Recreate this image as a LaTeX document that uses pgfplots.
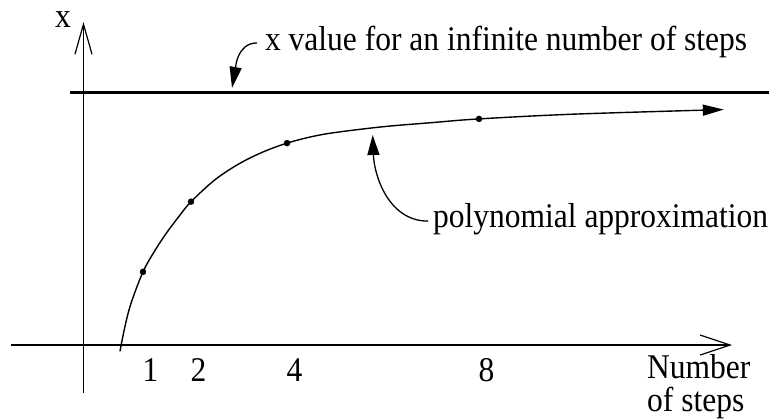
\documentclass[border=0pt]{standalone}
\usepackage{pgfplots}
\pgfplotsset{compat=1.18}
\usepackage{fontspec}
\setmainfont{Liberation Serif}
\usepackage{graphicx}
\usetikzlibrary{arrows.meta}

% text is set slightly taller than wide
\newcommand{\tx}[1]{\scalebox{1}[1.1]{#1}}
\newcommand{\figfont}{\fontsize{31.5}{27}\selectfont}

\begin{document}
\begin{tikzpicture}[x=1pt,y=1pt,every node/.append style={font=\figfont}]
\path[use as bounding box] (0,0) rectangle (773,419);
\begin{axis}[
  at={(11pt,26pt)}, anchor=south west,
  scale only axis, width=721pt, height=371pt,
  xmin=-1.75, xmax=13.27, ymin=-0.19, ymax=1.28,
  axis x line=middle, axis y line=none,
  x axis line style={line width=1.2pt, -{Straight Barb[length=30pt,width=20pt]}},
  xtick={1,2,4,8}, xticklabels={\tx{1},\tx{2},\tx{4},\tx{8}},
  ytick=\empty,
  major tick length=0pt,
  tick label style={font=\figfont},
  label style={font=\figfont},
  xticklabel style={anchor=north, inner sep=0pt, xshift=7.5pt, yshift=-13pt},
  clip=false,
  xlabel={\tx{\fontsize{31.5}{26}\selectfont\begin{tabular}[t]{@{}l@{}}Number\\of steps\end{tabular}}},
  xlabel style={at={(axis cs:11.5,-0.131)}, anchor=base west, inner sep=0pt},
]
% vertical axis
\draw[line width=1.2pt, -{Straight Barb[length=30pt,width=17pt]}]
  (axis cs:-0.24,-0.19) -- (axis cs:-0.24,1.28);
\node[anchor=base west, inner sep=0pt] at (axis cs:-0.833,1.26) {\tx{x}};

% limit for an infinite number of steps
\addplot[line width=3pt] coordinates {(-0.52,1) (14.04,1)};

% polynomial approximation through the computed values
\addplot[line width=1.4pt, smooth, tension=0.55,
  -{Triangle[length=21pt,width=11pt]}] coordinates {
  (0.52,-0.025) (0.62,0.07) (0.75,0.165) (1,0.29) (1.25,0.375)
  (1.5,0.447) (1.75,0.51) (2,0.568) (2.5,0.655) (3,0.718)
  (3.5,0.765) (4,0.80) (4.5,0.825) (5,0.842) (6,0.865)
  (7,0.881) (8,0.896) (10,0.915) (13.1,0.933)
};
\addplot[only marks, mark=*, mark size=3pt] coordinates {
  (1,0.29) (2,0.568) (4,0.80) (8,0.896)
};

% annotations
\draw[line width=1.3pt, -{Triangle[length=21pt,width=12pt]}]
  (axis cs:3.375,1.197) to[out=180,in=80] (axis cs:2.854,1.019);
\node[anchor=base west, inner sep=0pt] at (axis cs:3.54,1.169)
  {\tx{x value for an infinite number of steps}};

\draw[line width=1.3pt, -{Triangle[length=20pt,width=12pt]}]
  (axis cs:6.94,0.491) to[out=180,in=-88] (axis cs:5.785,0.832);
\node[anchor=base west, inner sep=0pt] at (axis cs:7.04,0.464)
  {\tx{polynomial approximation}};
\end{axis}
\end{tikzpicture}
\end{document}
